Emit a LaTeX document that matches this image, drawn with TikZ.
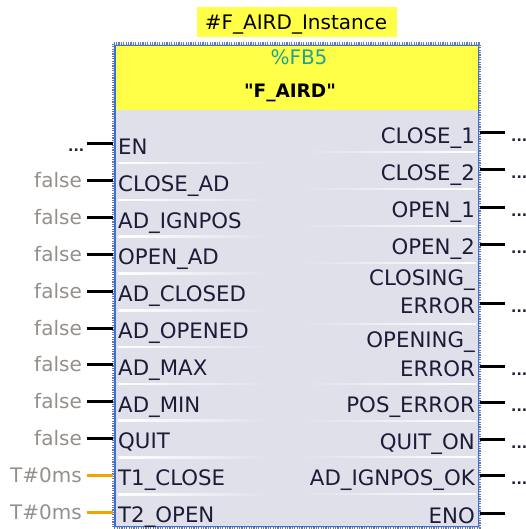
\documentclass[tikz,border=0pt]{standalone}
\usepackage{fontspec}
\setmainfont{DejaVu Sans}
\newfontfamily\plainquotes[Ligatures=TeXOff]{DejaVu Sans}
\usetikzlibrary{calc}

\definecolor{boxgray}{HTML}{E0E0EA}
\definecolor{hdryellow}{HTML}{FFFF48}
\definecolor{frameblue}{HTML}{3D6FD6}
\definecolor{framedots}{HTML}{6A78A8}
\definecolor{valgray}{HTML}{948F8A}
\definecolor{timeorange}{HTML}{F5A300}
\definecolor{fbteal}{HTML}{1FA38F}
\definecolor{labelink}{HTML}{1C1C38}

\tikzset{
  pinlabel/.style={inner sep=0pt, text=labelink, font=\fontsize{21.3}{24}\selectfont},
  inlabel/.style={pinlabel, anchor=base west},
  outlabel/.style={pinlabel, anchor=base east},
  actual/.style={inner sep=0pt, anchor=base east, text=valgray, font=\fontsize{20}{24}\selectfont},
  opendots/.style={inner sep=0pt, anchor=base west, text=labelink, font=\fontsize{14}{18}\selectfont\bfseries},
  boolpin/.style={draw=black, line width=3pt},
  timepin/.style={draw=timeorange, line width=3pt},
  sepleft/.style={left color=white, right color=boxgray},
  sepright/.style={left color=boxgray, right color=white},
}

\begin{document}
\begin{tikzpicture}[x=1pt,y=-1pt]
\useasboundingbox (0,0) rectangle (526,529);

% instance data block
\node[fill=hdryellow, minimum width=200pt, minimum height=30pt, inner sep=0pt] (idb) at (297,22) {};
\node[inner sep=0pt, anchor=base, font=\fontsize{20}{24}\selectfont, text=black] (idbtext) at (296,30) {\#F\_AIRD\_Instance};

% function block body
\node[fill=boxgray, minimum width=366pt, minimum height=483.5pt, inner sep=0pt] (fb) at (296.5,285.75) {};
\fill[hdryellow] ($(fb.north west)+(2,2)$) rectangle ($(fb.north east)+(-2,66)$);
\node[inner sep=0pt, anchor=base, text=fbteal, font=\fontsize{20}{24}\selectfont] (fbnum) at (299,65) {\%FB5};
\node[inner sep=0pt, anchor=base, text=black, font=\plainquotes\fontsize{18.5}{22}\selectfont\bfseries] (fbname) at (290,98) {"F\_AIRD"};

% row separators, left column
\foreach \k in {0,...,9} {
  \shade[sepleft] (118,{144+36.8*\k+18.3}) rectangle (270,{144+36.8*\k+19.8});
}
% row separators, right column
\foreach \y in {152,189,226,263,324,384,421,457,494} {
  \shade[sepright] (300,\y-0.7) rectangle (476,\y+0.8);
}

% frame
\draw[line width=3pt, draw=framedots, dash pattern=on 1.2pt off 1.2pt] (fb.north west) rectangle (fb.south east);
\draw[line width=1.4pt, draw=frameblue] ($(fb.north west)+(1.5,1.5)$) rectangle ($(fb.south east)+(-1.5,-1.5)$);

% inputs
\foreach \k/\name/\val/\kind in {
  0/EN/{}/boolpin,
  1/CLOSE\_AD/false/boolpin,
  2/AD\_IGNPOS/false/boolpin,
  3/OPEN\_AD/false/boolpin,
  4/AD\_CLOSED/false/boolpin,
  5/AD\_OPENED/false/boolpin,
  6/AD\_MAX/false/boolpin,
  7/AD\_MIN/false/boolpin,
  8/QUIT/false/boolpin,
  9/T1\_CLOSE/T\#0ms/timepin,
  10/T2\_OPEN/T\#0ms/timepin} {
  \pgfmathsetmacro{\py}{144+36.8*\k}
  \coordinate (in\k) at (87,\py);
  \draw[\kind] (in\k) -- (in\k -| fb.west);
  \node[inlabel] (inl\k) at (118,\py+10.5) {\name};
  \node[actual] (inv\k) at (82,\py+7) {\val};
}
\node[opendots] (endots) at (68,152) {...};

% outputs
\foreach \k/\py/\name in {
  0/133/CLOSE\_1,
  1/170/CLOSE\_2,
  2/207/OPEN\_1,
  3/244/OPEN\_2,
  4/303/ERROR,
  5/366/ERROR,
  6/402/POS\_ERROR,
  7/439/QUIT\_ON,
  8/475/AD\_IGNPOS\_OK,
  9/513/ENO} {
  \coordinate (out\k) at (505,\py);
  \draw[boolpin] (out\k -| fb.east) -- (out\k);
  \node[outlabel] (outl\k) at (475,\py+10.5) {\name};
}
\node[outlabel] (outl4a) at (475,285) {CLOSING\_};
\node[outlabel] (outl5a) at (475,347.5) {OPENING\_};

\foreach \k/\py in {0/133,1/170,2/207,3/244,4/303,5/366,6/402,7/439,8/475} {
  \node[opendots] (outdots\k) at (511,\py+9) {...};
}
\end{tikzpicture}
\end{document}
